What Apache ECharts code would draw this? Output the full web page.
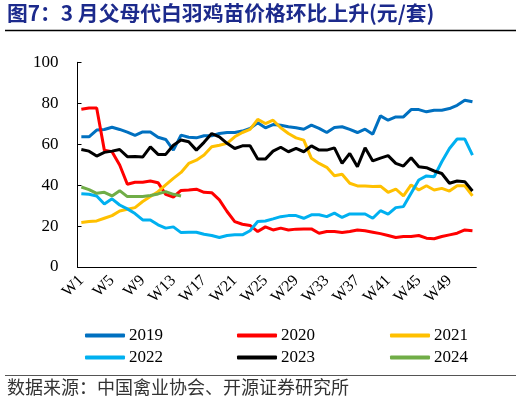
<!DOCTYPE html>
<html>
<head>
<meta charset="utf-8">
<script src="https://cdn.jsdelivr.net/npm/echarts@6/dist/echarts.min.js"></script>
<style>
  html, body { margin: 0; padding: 0; background: #fff; }
  #chart { width: 522px; height: 404px; }
</style>
</head>
<body>
<div id="chart"></div>
<script>
// weeks W1..W52
let weeks = [];
for (let i = 1; i <= 52; i++) weeks.push('W' + i);

let years = ['2019', '2020', '2021', '2022', '2023', '2024'];
let colors = ['#0070C0', '#FF0000', '#FFC000', '#00B0F0', '#000000', '#70AD47'];

let y2019 = [63.6, 63.6, 66.9, 67.2, 68.3, 67.2, 65.9, 64.3, 66.0, 66.0, 63.4, 62.3, 57.1, 64.4,
  63.4, 63.1, 64.1, 64.1, 65.2, 65.7, 65.7, 66.4, 67.7, 70.5, 68.0, 69.6, 69.2,
  68.5, 68.0, 67.3, 69.3, 67.7, 65.7, 68.2, 68.5, 67.2, 65.7, 67.3, 64.9,
  73.8, 71.7, 73.3, 73.3, 76.9, 76.9, 75.8, 76.6, 76.6, 77.4, 79.0, 81.5, 80.7];
let y2020 = [77.1, 77.7, 77.7, 57.1, 56.3, 49.8, 40.4, 41.4, 41.4, 42.0, 41.2, 35.5, 34.2, 37.4,
  37.6, 38.0, 36.5, 36.3, 32.8, 27.1, 22.2, 20.9, 20.3, 17.3, 19.6, 18.1, 19.0,
  18.1, 18.5, 18.6, 18.6, 16.5, 17.3, 17.3, 16.9, 17.3, 18.1, 17.7, 17.0,
  16.3, 15.4, 14.4, 14.9, 14.9, 15.4, 14.1, 13.8, 14.9, 15.7, 16.5, 18.1, 17.7];
let y2021 = [21.7, 22.2, 22.5, 23.8, 25.1, 27.4, 28.2, 29.0, 32.0, 34.4, 36.8, 40.1, 43.3, 46.2,
  50.6, 52.2, 54.7, 58.7, 59.5, 60.4, 63.6, 65.7, 67.2, 72.1, 70.1, 71.7, 68.0,
  65.2, 63.1, 62.0, 53.1, 50.6, 48.7, 44.6, 45.3, 40.9, 39.6, 39.6, 39.3,
  39.5, 36.5, 38.1, 34.7, 40.1, 37.6, 39.7, 37.6, 38.4, 37.1, 39.7, 39.7, 34.7];
let y2022 = [35.8, 35.5, 34.7, 30.8, 33.3, 30.3, 28.4, 26.1, 23.0, 23.0, 20.6, 19.0, 19.6, 16.8,
  17.0, 17.0, 16.0, 15.4, 14.4, 15.4, 15.7, 15.7, 17.7, 22.2, 22.5, 23.5, 24.6,
  25.1, 25.1, 23.8, 25.5, 25.5, 24.6, 26.3, 24.2, 25.9, 25.9, 25.9, 23.8,
  27.5, 25.8, 29.0, 29.5, 36.0, 42.5, 44.5, 44.1, 51.4, 57.9, 62.5, 62.5, 54.7];
let y2023 = [57.4, 56.6, 54.2, 56.0, 56.6, 57.4, 53.9, 54.0, 53.7, 58.7, 55.0, 55.0, 59.5, 62.0,
  61.2, 57.1, 60.9, 65.2, 63.6, 60.4, 57.9, 59.2, 59.2, 52.7, 52.7, 56.6, 58.5,
  56.3, 57.9, 56.3, 59.2, 57.1, 57.1, 58.2, 50.6, 55.5, 49.0, 58.2, 51.8,
  53.2, 54.4, 50.6, 49.3, 53.4, 49.0, 48.5, 46.9, 45.7, 40.9, 42.0, 41.7, 37.1];
let y2024 = [39.1, 37.8, 36.0, 36.5, 34.7, 37.3, 34.4, 34.4, 34.4, 34.9, 35.7, 36.8, 35.5, 34.7];

let seriesData = [y2019, y2020, y2021, y2022, y2023, y2024];

let yTicks = [0, 20, 40, 60, 80, 100];

let serif = '"Liberation Serif", "Times New Roman", serif';

let chartDom = document.getElementById('chart');
let myChart = echarts.init(chartDom);
let option;

// one legend per item so the 3x2 grid sits where the picture has it
let legendCols = [80, 232, 385];
let legendRows = [322, 344];
let legends = years.map(function(y, i){
    return {
        data: [y],
        left: legendCols[i % 3],
        top: legendRows[Math.floor(i / 3)],
        icon: 'roundRect',
        itemWidth: 40,
        itemHeight: 4,
        itemGap: 0,
        textStyle: { fontFamily: serif, fontSize: 17, color: '#000', padding: [0, 0, 0, -1] }
    };
});

option = {
    animation: false,
    backgroundColor: '#fff',
    legend: legends,
    grid: { left: 77.5, right: 45.7, top: 62.3, bottom: 137 },
    xAxis: {
        type: 'category',
        data: weeks,
        boundaryGap: true,
        axisLine: { lineStyle: { color: '#000', width: 1 } },
        axisTick: { inside: true, length: 5, interval: 3, lineStyle: { color: '#000' } },
        axisLabel: {
            interval: 3, rotate: 45, margin: 11,
            fontFamily: serif, fontSize: 16, color: '#000'
        }
    },
    yAxis: {
        type: 'value',
        min: yTicks[0],
        max: yTicks[yTicks.length - 1],
        interval: 20,
        splitLine: { show: false },
        axisLine: { show: true, lineStyle: { color: '#000', width: 1 } },
        axisTick: { show: true, inside: true, length: 4, lineStyle: { color: '#000' } },
        axisLabel: { margin: 19, fontFamily: serif, fontSize: 17, color: '#000' }
    },
    series: years.map(function(y, i){
        return {
            name: y,
            type: 'line',
            data: seriesData[i],
            symbol: 'none',
            lineStyle: { color: colors[i], width: 3 },
            itemStyle: { color: colors[i] },
            z: i === 5 ? 3 : 2
        };
    }),
    graphic: [
        {
            type: 'text', left: 7, top: 3,
            style: {
                text: '图7：3 月父母代白羽鸡苗价格环比上升(元/套)',
                font: 'bold 20.8px "Noto Sans CJK SC", sans-serif',
                fill: '#1C2A8C'
            }
        },
        {
            type: 'line',
            shape: { x1: 5, y1: 30.5, x2: 516, y2: 30.5 },
            style: { stroke: '#000', lineWidth: 1.5 }
        },
        {
            type: 'line',
            shape: { x1: 5, y1: 375.5, x2: 516, y2: 375.5 },
            style: { stroke: '#555', lineWidth: 1 }
        },
        {
            type: 'text', left: 7, top: 378,
            style: {
                text: '数据来源：中国禽业协会、开源证券研究所',
                font: '18px "Noto Sans CJK SC", sans-serif',
                fill: '#333'
            }
        }
    ]
};

option && myChart.setOption(option);
</script>
</body>
</html>
